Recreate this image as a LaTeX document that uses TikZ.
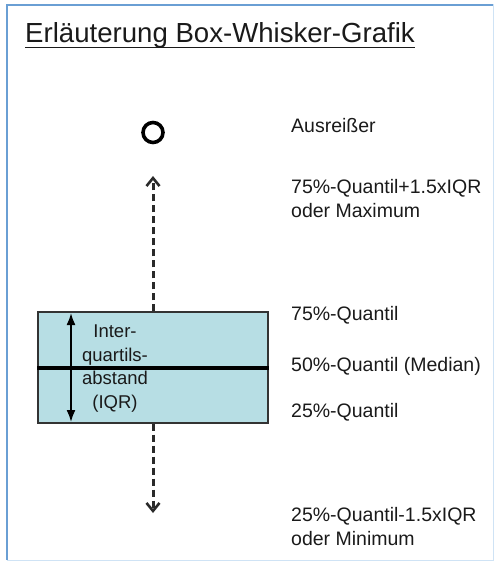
\documentclass[tikz,border=0pt]{standalone}
\usepackage{fontspec}
\setmainfont{Liberation Sans}
\usetikzlibrary{arrows.meta}
\definecolor{txt}{HTML}{1A1A1A}
\definecolor{framebl}{HTML}{6A9FD4}
\definecolor{framelt}{HTML}{CFE3F5}
\definecolor{boxfill}{HTML}{B7DEE4}
\definecolor{dash}{HTML}{2A2A2A}
\tikzset{
  lbl/.style={inner sep=0pt, text=txt, font=\fontsize{19.5}{24}\selectfont, align=left},
  whisker/.style={draw=dash, line width=3pt, dash pattern=on 7pt off 4pt,
    -{Straight Barb[length=8pt,width=13pt,line width=2.6pt]}},
  iqrarrow/.style={draw=black, line width=1.8pt, {Latex[length=12pt,width=9pt]}-{Latex[length=12pt,width=9pt]}},
}
\begin{document}
\begin{tikzpicture}[x=1pt,y=-1pt]
\useasboundingbox (0,0) rectangle (494,561);
% frame
\draw[framelt, line width=1pt] (7,5) -- (493,5) -- (493,560) -- (7,560);
\draw[framebl, line width=2.4pt] (7,560) -- (7,5) -- (493,5);
% title
\node[inner sep=0pt, anchor=base west, text=txt, font=\fontsize{27.6}{32}\selectfont] (title) at (25,43) {Erläuterung Box-Whisker-Grafik};
\draw[txt, line width=1.6pt] ([yshift=-4.5pt]title.base west) -- ([yshift=-4.5pt]title.base east);
% box
\node[draw=black!80, line width=1.2pt, fill=boxfill, minimum width=230pt, minimum height=111pt, inner sep=0pt] (box) at (153,367.5) {};
\draw[black, line width=4pt] (box.west) -- (box.east);
% outlier
\node[draw=black, circle, line width=3.6pt, minimum size=20pt, inner sep=0pt] (out) at (153,132.5) {};
% whiskers
\coordinate (uptip) at (153,176);
\coordinate (lotip) at (153,513);
\draw[whisker] (box.north) -- (uptip);
\draw[whisker] (box.south) -- (lotip);
% IQR arrow
\coordinate (iqrT) at (71,313);
\coordinate (iqrB) at (71,422);
\draw[iqrarrow] (iqrT) -- (iqrB);
\node[inner sep=0pt, text=txt, font=\fontsize{18.5}{23.5}\selectfont, align=center] (iqrtext) at (115,368.5) {Inter-\\quartils-\\abstand\\(IQR)};
% labels
\node[lbl, anchor=base west] (l1) at (291,133) {Ausreißer};
\node[lbl, anchor=north west] (l2) at (291,179) {75\%-Quantil+1.5xIQR\\oder Maximum};
\node[lbl, anchor=base west] (l3) at (291,320) {75\%-Quantil};
\node[lbl, anchor=base west] (l4) at (291,371) {50\%-Quantil (Median)};
\node[lbl, anchor=base west] (l5) at (291,417) {25\%-Quantil};
\node[lbl, anchor=north west] (l6) at (291,507) {25\%-Quantil-1.5xIQR\\oder Minimum};
\end{tikzpicture}
\end{document}
